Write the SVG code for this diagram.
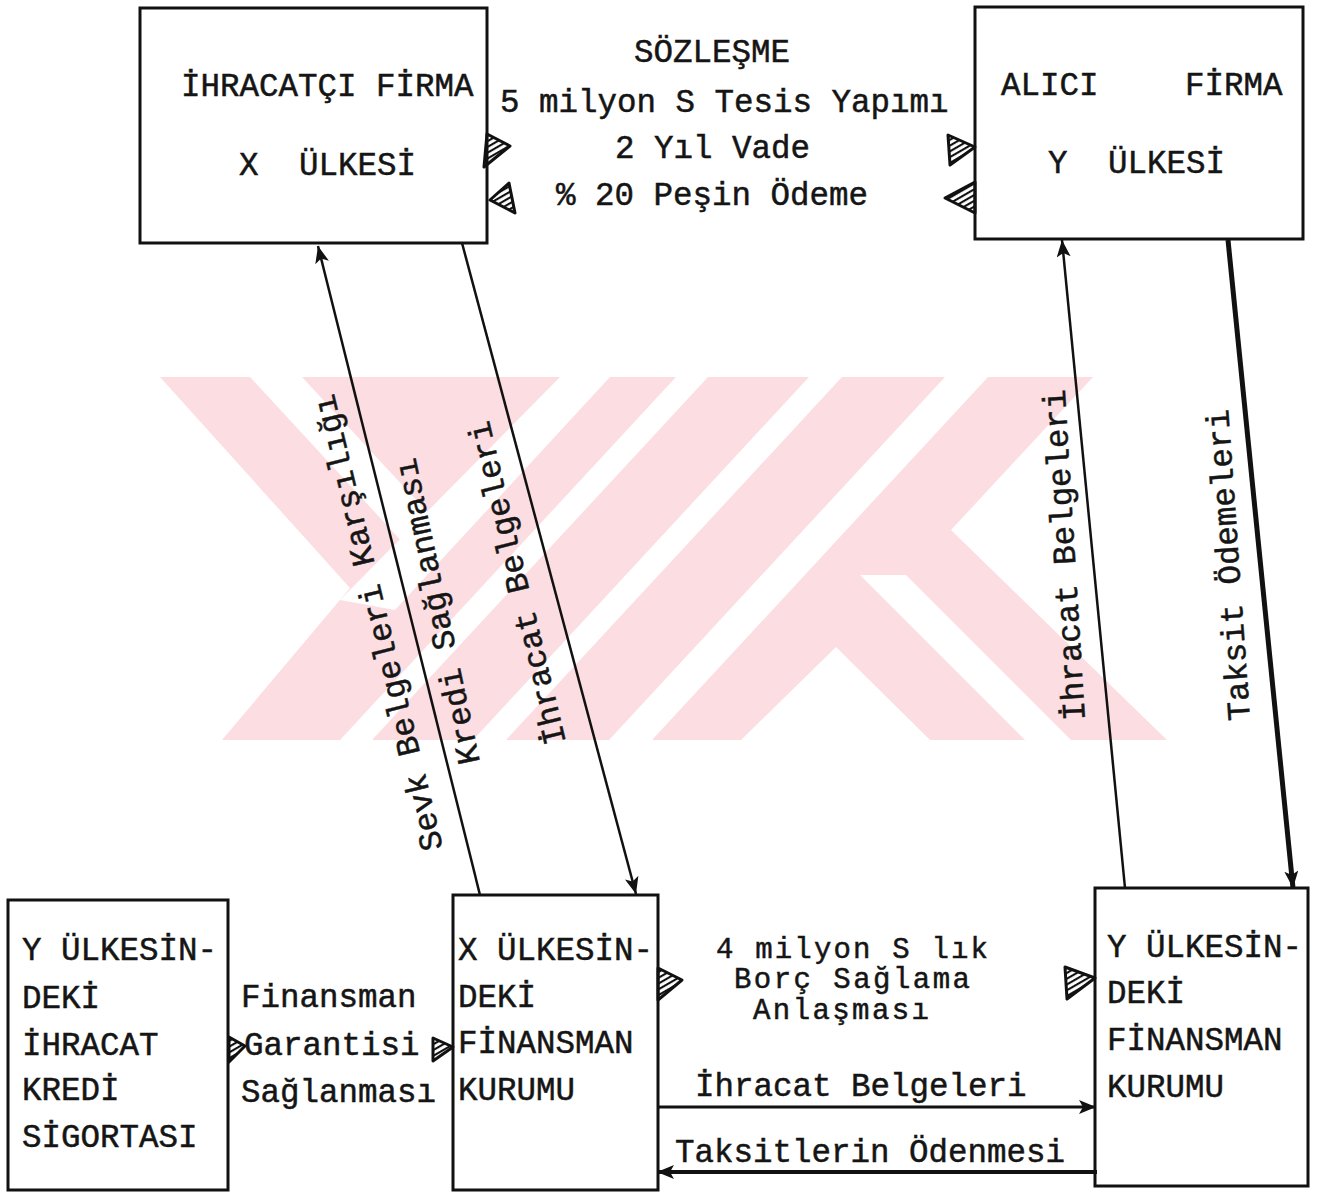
<svg xmlns="http://www.w3.org/2000/svg" width="1325" height="1193" viewBox="0 0 1325 1193">
<defs>
<style>
.t{font-family:"Liberation Mono","DejaVu Sans Mono",monospace;font-size:32.5px;fill:#151515;stroke:#151515;stroke-width:0.5}
.s{font-size:29px}
.box{fill:none;stroke:#111;stroke-width:3}
.ln{fill:none;stroke:#111;stroke-width:2.5}
.ln3{fill:none;stroke:#111;stroke-width:3}
.ln4{fill:none;stroke:#111;stroke-width:4}
.ln5{fill:none;stroke:#111;stroke-width:5}
.ha{fill:url(#hatch);stroke:#111;stroke-width:3;stroke-linejoin:round}
.wm{fill:#fbdde2}
.wh{fill:#fff}
</style>
<pattern id="hatch" width="5" height="5" patternUnits="userSpaceOnUse" patternTransform="rotate(60)">
<rect width="5" height="5" fill="#fff"/>
<line x1="1" y1="0" x2="1" y2="5" stroke="#111" stroke-width="2.2"/>
</pattern>
<marker id="ah" markerUnits="userSpaceOnUse" markerWidth="18" markerHeight="14" refX="17" refY="7" orient="auto">
<path d="M0,0 L17,7 L0,14 L4,7 z" fill="#111"/>
</marker>
</defs>
<rect width="1325" height="1193" fill="#fff"/>

<g id="watermark">
<polygon class="wm" points="160,377 1093,377 951,530 1167,740 222,740 350,588"/>
<polygon class="wh" points="250,377 302,377 431,516 430,572"/>
<polygon class="wh" points="560,377 610,377 395,610 340,600"/>
<polygon class="wh" points="676,377 708,377 372,740 340,740"/>
<polygon class="wh" points="809,377 842,377 506,740 473,740"/>
<polygon class="wh" points="945,377 988,377 652,740 609,740"/>
<polygon class="wh" points="860,575 906,575 1071,740 1025,740"/>
<polygon class="wh" points="741,740 836,647 930,740"/>
</g>

<g id="connectors">
<line class="ln" x1="480" y1="895" x2="318" y2="246" marker-end="url(#ah)"/>
<line class="ln" x1="462" y1="243" x2="636" y2="894" marker-end="url(#ah)"/>
<line class="ln" x1="1125" y1="888" x2="1062" y2="240" marker-end="url(#ah)"/>
<line class="ln5" x1="1228" y1="240" x2="1293" y2="888" marker-end="url(#ah)"/>
<line class="ln3" x1="658" y1="1107" x2="1096" y2="1107" marker-end="url(#ah)"/>
<line class="ln4" x1="1097" y1="1172" x2="657" y2="1172" marker-end="url(#ah)"/>
<polygon class="ha" points="487,134 510,146 484,167"/>
<polygon class="ha" points="490,200 509,183 515,213"/>
<polygon class="ha" points="948,135 975,147 950,165"/>
<polygon class="ha" points="945,198 975,182 975,213"/>
<polygon class="ha" points="229,1037 245,1046 229,1062"/>
<polygon class="ha" points="433,1038 453,1047 433,1061"/>
<polygon class="ha" points="658,968 682,980 658,1000"/>
<polygon class="ha" points="1065,967 1095,978 1067,999"/>
<text class="t" x="634" y="62">SÖZLEŞME</text>
<text class="t" x="500" y="112">5 milyon S Tesis Yapımı</text>
<text class="t" x="615" y="158">2 Yıl Vade</text>
<text class="t" x="556" y="205">% 20 Peşin Ödeme</text>
<text class="t" transform="rotate(-103.5 443 848)" x="443" y="848">Sevk Belgeleri Karşılığı</text>
<text class="t" transform="rotate(-102 480 762)" x="480" y="762">Kredi Sağlanması</text>
<text class="t" transform="rotate(-103.5 566 742)" x="566" y="742">İhracat Belgeleri</text>
<text class="t" transform="rotate(-93.5 1085 720)" x="1085" y="720">İhracat Belgeleri</text>
<text class="t" transform="rotate(-94 1250 720)" x="1250" y="720">Taksit Ödemeleri</text>
<text class="t" x="241" y="1007">Finansman</text>
<text class="t" x="244" y="1055">Garantisi</text>
<text class="t" x="241" y="1102">Sağlanması</text>
<text class="t s" x="716" y="958" textLength="272" lengthAdjust="spacing">4 milyon S lık</text>
<text class="t s" x="734" y="988" textLength="236" lengthAdjust="spacing">Borç Sağlama</text>
<text class="t s" x="753" y="1019" textLength="176" lengthAdjust="spacing">Anlaşması</text>
<text class="t" x="695" y="1096">İhracat Belgeleri</text>
<text class="t" x="675" y="1162">Taksitlerin Ödenmesi</text>
</g>

<g id="ihracatci-firma">
<rect class="box" x="140" y="8" width="347" height="235"/>
<text class="t" x="181" y="96">İHRACATÇI FİRMA</text>
<text class="t" x="239" y="175">X</text>
<text class="t" x="299" y="175">ÜLKESİ</text>
</g>

<g id="alici-firma">
<rect class="box" x="975" y="7" width="328" height="232"/>
<text class="t" x="1001" y="95">ALICI</text>
<text class="t" x="1185" y="95">FİRMA</text>
<text class="t" x="1048" y="173">Y</text>
<text class="t" x="1108" y="173">ÜLKESİ</text>
</g>

<g id="y-kredi-sigortasi">
<rect class="box" x="8" y="900" width="220" height="290"/>
<text class="t" x="22" y="960">Y ÜLKESİN-</text>
<text class="t" x="22" y="1008">DEKİ</text>
<text class="t" x="22" y="1055">İHRACAT</text>
<text class="t" x="22" y="1100">KREDİ</text>
<text class="t" x="22" y="1147">SİGORTASI</text>
</g>

<g id="x-finansman-kurumu">
<rect class="box" x="453" y="895" width="205" height="295"/>
<text class="t" x="458" y="960">X ÜLKESİN-</text>
<text class="t" x="458" y="1007">DEKİ</text>
<text class="t" x="458" y="1053">FİNANSMAN</text>
<text class="t" x="458" y="1100">KURUMU</text>
</g>

<g id="y-finansman-kurumu">
<rect class="box" x="1095" y="888" width="213" height="298"/>
<text class="t" x="1107" y="957">Y ÜLKESİN-</text>
<text class="t" x="1107" y="1003">DEKİ</text>
<text class="t" x="1107" y="1050">FİNANSMAN</text>
<text class="t" x="1107" y="1097">KURUMU</text>
</g>
</svg>
